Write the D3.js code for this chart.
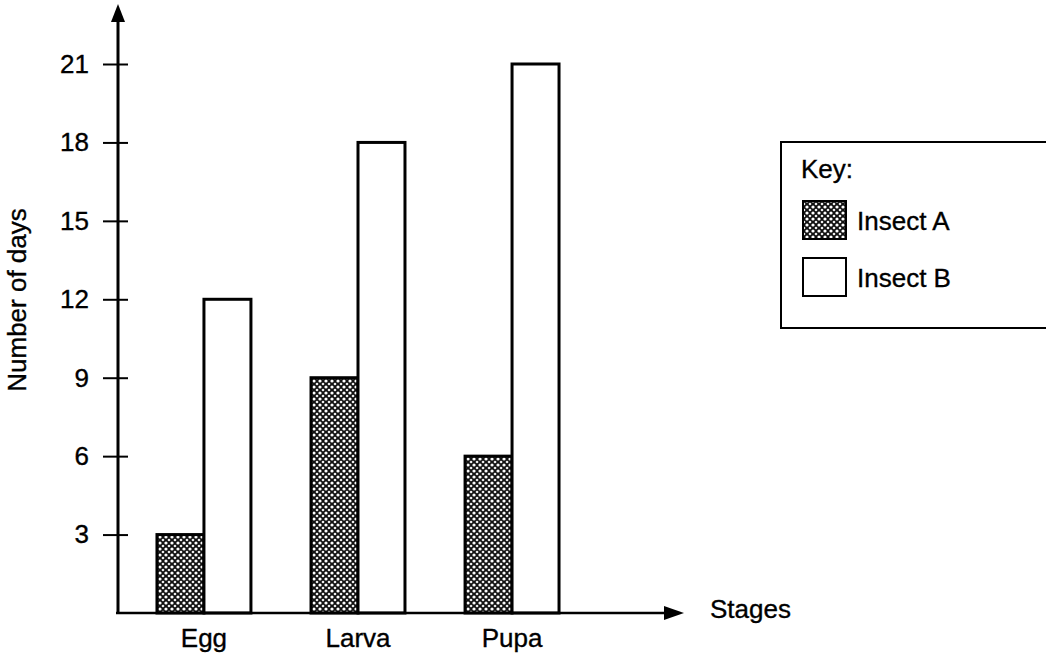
<!DOCTYPE html>
<html>
<head>
<meta charset="utf-8">
<script src="https://cdn.jsdelivr.net/npm/d3@7"></script>
<style>
  body { margin: 0; background: #fff; }
  svg text { font-family: "Liberation Sans", Arial, sans-serif; fill: #000; stroke: #000; stroke-width: 0.35px; }
</style>
</head>
<body>
<svg id="chart" width="1046" height="657"></svg>
<script>
// data
const stages = ["Egg", "Larva", "Pupa"];
const seriesNames = ["Insect A", "Insect B"];
const insectA = [3, 9, 6];
const insectB = [12, 18, 21];
const yTicks = [3, 6, 9, 12, 15, 18, 21];

const svg = d3.select("#chart");
const fontSize = "26px";

// hatch pattern for insect A
const defs = svg.append("defs");
const pat = defs.append("pattern")
    .attr("id", "hatch")
    .attr("patternUnits", "userSpaceOnUse")
    .attr("width", 6).attr("height", 6);
pat.append("rect").attr("width", 6).attr("height", 6).attr("fill", "#111");
pat.append("circle").attr("cx", 3).attr("cy", 3).attr("r", 1.6).attr("fill", "#fff");
pat.append("circle").attr("cx", 0).attr("cy", 0).attr("r", 1.3).attr("fill", "#eee");
pat.append("circle").attr("cx", 6).attr("cy", 0).attr("r", 1.3).attr("fill", "#eee");
pat.append("circle").attr("cx", 0).attr("cy", 6).attr("r", 1.3).attr("fill", "#eee");
pat.append("circle").attr("cx", 6).attr("cy", 6).attr("r", 1.3).attr("fill", "#eee");

const x0 = 118, y0 = 613;

const xScale = d3.scaleBand()
    .domain(stages)
    .range([x0, 598])
    .paddingInner(0.39)
    .paddingOuter(0.253);

const xSub = d3.scaleBand()
    .domain(seriesNames)
    .range([0, xScale.bandwidth()]);

const yScale = d3.scaleLinear()
    .domain([0, 21])
    .range([y0, 64]);

const rows = stages.map((s, i) => ({stage: s, vals: [insectA[i], insectB[i]]}));

// bars
const groups = svg.append("g").selectAll("g")
    .data(rows)
    .enter().append("g")
    .attr("transform", d => "translate(" + xScale(d.stage) + ",0)");

groups.selectAll("rect")
    .data(d => d.vals.map((v, j) => ({name: seriesNames[j], v: v})))
    .enter().append("rect")
    .attr("x", d => xSub(d.name))
    .attr("width", xSub.bandwidth())
    .attr("y", d => yScale(d.v))
    .attr("height", d => y0 - yScale(d.v))
    .attr("fill", d => d.name === "Insect A" ? "url(#hatch)" : "#fff")
    .attr("stroke", "#000")
    .attr("stroke-width", 3);

// y axis
const yAxis = d3.axisLeft(yScale)
    .tickValues(yTicks)
    .tickSize(15)
    .tickPadding(14);

const gy = svg.append("g")
    .attr("transform", "translate(" + x0 + ",0)")
    .call(yAxis);
gy.select(".domain").remove();
gy.selectAll(".tick line")
    .attr("x1", 10)
    .attr("x2", -15)
    .attr("stroke", "#000")
    .attr("stroke-width", 2);
gy.selectAll(".tick text")
    .attr("x", -29)
    .style("font-size", fontSize)
    .style("font-family", "Liberation Sans, Arial, sans-serif");

// axis lines with arrows
svg.append("line")
    .attr("x1", x0).attr("y1", y0)
    .attr("x2", x0).attr("y2", 20)
    .attr("stroke", "#000").attr("stroke-width", 3);
svg.append("path")
    .attr("d", "M" + x0 + ",4 L" + (x0 - 7) + ",22 L" + (x0 + 7) + ",22 Z")
    .attr("fill", "#000");

svg.append("line")
    .attr("x1", x0 - 2).attr("y1", y0)
    .attr("x2", 668).attr("y2", y0)
    .attr("stroke", "#000").attr("stroke-width", 2.5);
svg.append("path")
    .attr("d", "M684," + y0 + " L664," + (y0 - 7) + " L664," + (y0 + 7) + " Z")
    .attr("fill", "#000");

// category labels
svg.append("g").selectAll("text")
    .data(stages)
    .enter().append("text")
    .attr("x", d => xScale(d) + xScale.bandwidth() / 2)
    .attr("y", 647)
    .attr("text-anchor", "middle")
    .style("font-size", fontSize)
    .text(d => d);

svg.append("text")
    .attr("x", 710).attr("y", 618)
    .style("font-size", fontSize)
    .text("Stages");

svg.append("text")
    .attr("transform", "translate(26,300) rotate(-90)")
    .attr("text-anchor", "middle")
    .style("font-size", fontSize)
    .text("Number of days");

// key
const key = svg.append("g");
key.append("rect")
    .attr("x", 781).attr("y", 142)
    .attr("width", 300).attr("height", 186)
    .attr("fill", "#fff")
    .attr("stroke", "#000")
    .attr("stroke-width", 2);
key.append("text")
    .attr("x", 801).attr("y", 178)
    .style("font-size", fontSize)
    .text("Key:");

const keyRows = key.selectAll("g.item")
    .data(seriesNames)
    .enter().append("g")
    .attr("class", "item")
    .attr("transform", (d, i) => "translate(0," + (i * 57) + ")");
keyRows.append("rect")
    .attr("x", 803).attr("y", 201)
    .attr("width", 43).attr("height", 38)
    .attr("fill", d => d === "Insect A" ? "url(#hatch)" : "#fff")
    .attr("stroke", "#000")
    .attr("stroke-width", 2);
keyRows.append("text")
    .attr("x", 857).attr("y", 230)
    .style("font-size", fontSize)
    .text(d => d);
</script>
</body>
</html>
